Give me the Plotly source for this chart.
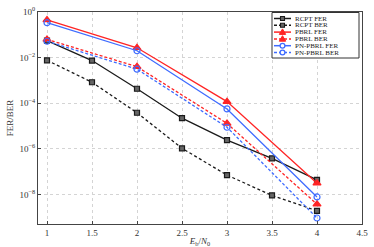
import plotly.graph_objects as go

# ---- data ----
ebn0_rcpt = [1, 1.5, 2, 2.5, 3, 3.5, 4]
rcpt_fer = [5.5e-2, 7.4e-3, 4.3e-4, 2.2e-5, 2.4e-6, 3.8e-7, 4.3e-8]
rcpt_ber = [7.6e-3, 8.3e-4, 3.8e-5, 1.05e-6, 7e-8, 9e-9, 1.9e-9]
ebn0_pbrl = [1, 2, 3, 4]
pbrl_fer = [0.45, 2.7e-2, 1.17e-4, 3.1e-8]
pbrl_ber = [6.3e-2, 4e-3, 1.3e-5, 3.7e-9]
pn_fer = [0.34, 2e-2, 5.6e-5, 7.7e-9]
pn_ber = [5.2e-2, 3.1e-3, 8.8e-6, 9.2e-10]

x_ticks = [1, 1.5, 2, 2.5, 3, 3.5, 4, 4.5]
x_ticktext = ["1", "1.5", "2", "2.5", "3", "3.5", "4", "4.5"]
y_ticks = [1, 1e-2, 1e-4, 1e-6, 1e-8]
y_ticktext = ["10<sup>0</sup>", "10<sup>\u22122</sup>", "10<sup>\u22124</sup>",
              "10<sup>\u22126</sup>", "10<sup>\u22128</sup>"]
legend_names = ["RCPT FER", "RCPT BER", "PBRL FER", "PBRL BER", "PN-PBRL FER", "PN-PBRL BER"]

BLACK = "#1a1a1a"
RED = "#ff2424"
BLUE = "#3f6cff"
FONT = "Liberation Serif, DejaVu Serif, serif"

series = [
    (ebn0_rcpt, rcpt_fer, BLACK, "solid", "square", "#666666"),
    (ebn0_rcpt, rcpt_ber, BLACK, "3px,2.5px", "square", "#666666"),
    (ebn0_pbrl, pbrl_fer, RED, "solid", "triangle-up", RED),
    (ebn0_pbrl, pbrl_ber, RED, "3px,2px", "triangle-up", RED),
    (ebn0_pbrl, pn_fer, BLUE, "solid", "circle-open", BLUE),
    (ebn0_pbrl, pn_ber, BLUE, "3px,2px", "circle-open", BLUE),
]

fig = go.Figure()
for (xs, ys, col, dash, sym, fill), name in zip(series, legend_names):
    size = 5 if sym == "square" else (7 if sym == "triangle-up" else 6)
    fig.add_trace(go.Scatter(
        x=xs, y=ys, name=name, mode="lines+markers",
        line=dict(color=col, width=1.3, dash=dash),
        marker=dict(symbol=sym, size=size, color=fill,
                    line=dict(color=col, width=1.2)),
        showlegend=False,
    ))

# plot area geometry (px) for the hand-built legend
L, R, T, B = 38, 362, 12, 224
def px(xp):
    return (xp - L) / (R - L)
def py(yp):
    return (B - yp) / (B - T)

shapes = []
shapes.append(dict(type="rect", xref="paper", yref="paper",
                   x0=px(272), x1=px(359), y0=py(12.5), y1=py(58),
                   fillcolor="white", line=dict(color="#333333", width=1), layer="above"))
row_y = [18.5, 25.3, 32.1, 38.9, 45.7, 52.5]
for i, ((xs, ys, col, dash, sym, fill), name) in enumerate(zip(series, legend_names)):
    yy = row_y[i]
    shapes.append(dict(type="line", xref="paper", yref="paper",
                       x0=px(274), x1=px(291), y0=py(yy), y1=py(yy),
                       line=dict(color=col, width=1.5, dash="solid" if dash == "solid" else "3px,2px"),
                       layer="above"))
    cx = 282.5
    if sym == "square":
        shapes.append(dict(type="rect", xref="paper", yref="paper",
                           x0=px(cx - 2), x1=px(cx + 2), y0=py(yy - 2), y1=py(yy + 2),
                           fillcolor=fill, line=dict(color=col, width=1.1), layer="above"))
    elif sym == "triangle-up":
        path = "M {} {} L {} {} L {} {} Z".format(px(cx), py(yy - 3.2), px(cx - 3.2), py(yy + 2.3),
                                                  px(cx + 3.2), py(yy + 2.3))
        shapes.append(dict(type="path", xref="paper", yref="paper", path=path,
                           fillcolor=col, line=dict(color=col, width=1), layer="above"))
    else:
        shapes.append(dict(type="circle", xref="paper", yref="paper",
                           x0=px(cx - 2.4), x1=px(cx + 2.4), y0=py(yy - 2.4), y1=py(yy + 2.4),
                           fillcolor="white", line=dict(color=col, width=1.3), layer="above"))

annotations = []
for i, name in enumerate(legend_names):
    annotations.append(dict(text=name, xref="paper", yref="paper",
                            x=px(292.5), y=py(row_y[i]), xanchor="left", yanchor="middle",
                            showarrow=False, font=dict(family=FONT, size=7, color="#222222")))

fig.update_layout(
    width=374, height=247,
    margin=dict(l=L, r=374 - R, t=T, b=247 - B, autoexpand=False),
    paper_bgcolor="white", plot_bgcolor="white",
    font=dict(family=FONT, size=9, color="#333333"),
    shapes=shapes, annotations=annotations,
    xaxis=dict(range=[0.9, 4.5], tickvals=x_ticks, ticktext=x_ticktext, automargin=False,
               showgrid=True, gridcolor="#d4d4d4", griddash="dot", gridwidth=1,
               showline=True, linecolor="#444444", linewidth=1, mirror=True,
               ticks="inside", ticklen=3, tickcolor="#444444", zeroline=False,
               title=dict(text="<i>E</i><sub>b</sub>/<i>N</i><sub>0</sub>", standoff=2,
                          font=dict(family=FONT, size=9))),
    yaxis=dict(type="log", range=[-9.3, 0], tickvals=y_ticks, ticktext=y_ticktext, automargin=False,
               showgrid=True, gridcolor="#d4d4d4", griddash="dot", gridwidth=1,
               showline=True, linecolor="#444444", linewidth=1, mirror=True,
               ticks="inside", ticklen=3, tickcolor="#444444", zeroline=False,
               title=dict(text="FER/BER", standoff=4, font=dict(family=FONT, size=9))),
)

fig.write_html("out.html", config={"displayModeBar": False},
               post_script="document.body.style.margin='0px';document.body.style.padding='0px';")
